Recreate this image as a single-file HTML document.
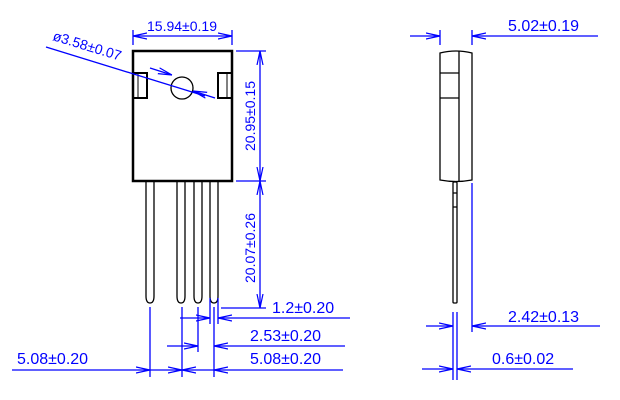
<!DOCTYPE html>
<html><head><style>html,body{margin:0;padding:0;background:#fff}svg{display:block}</style></head>
<body>
<svg width="620" height="400" viewBox="0 0 620 400" xmlns="http://www.w3.org/2000/svg" font-family="Liberation Sans, sans-serif">
<defs>
<marker id="a" markerWidth="14" markerHeight="8" refX="14" refY="4" orient="auto" markerUnits="userSpaceOnUse"><path d="M0,1 L14,4 L0,7" fill="none" stroke="#00f" stroke-width="1.2"/></marker>
</defs>
<g fill="none" stroke="#000">
<rect x="133" y="51" width="99" height="130" stroke-width="2.5"/>
<path d="M133,73 H147 V98 H133 M232,73 H218 V98 H232" stroke-width="2"/>
<path d="M138,73 V98 M227,73 V98" stroke-width="1"/>
<circle cx="182" cy="88" r="11" stroke-width="1.3"/>
<g stroke-width="1.3">
<path d="M146,181 V296 Q146,303 150,303 Q154,303 154,296 V181"/>
<path d="M177,181 V296 Q177,303 181,303 Q185,303 185,296 V181"/>
<path d="M194,181 V296 Q194,303 198,303 Q202,303 202,296 V181"/>
<path d="M210,181 V296 Q210,303 214,303 Q218,303 218,296 V181"/>
</g>
<g stroke-width="1.3">
<path d="M440,53 Q456,49 472,53 V180 Q456,183 440,180 Z"/>
<path d="M459,51 V181 M440,73 H459 M440,98 H459"/>
<rect x="453" y="182" width="4" height="121" rx="1"/>
<path d="M453,193 H457 M453,207 H457"/>
</g>
</g>
<g stroke="#00f" stroke-width="1.3" fill="none">
<path d="M133,30 V45 M232,30 V45"/>
<path d="M182,36 H133" marker-end="url(#a)"/><path d="M182,36 H232" marker-end="url(#a)"/>
<path d="M46,47 L205,96"/>
<path d="M150,68 L172,75" marker-end="url(#a)"/><path d="M215,98 L193,91" marker-end="url(#a)"/>
<path d="M236,51 H266 M236,181 H266"/>
<path d="M260,110 V51" marker-end="url(#a)"/><path d="M260,110 V181" marker-end="url(#a)"/>
<path d="M260,240 V181" marker-end="url(#a)"/><path d="M260,240 V308" marker-end="url(#a)"/>
<path d="M221,308 H266"/>
<path d="M150,307 V377 M182,307 V377 M198,307 V352 M210,298 V324 M218,298 V324 M214,307 V377"/>
<path d="M180,318 H210" marker-end="url(#a)"/><path d="M350,318 H218" marker-end="url(#a)"/>
<path d="M167,346 H198" marker-end="url(#a)"/><path d="M345,346 H214" marker-end="url(#a)"/>
<path d="M12,370 H150" marker-end="url(#a)"/><path d="M150,370 H182" marker-end="url(#a)"/>
<path d="M214,370 H182" marker-end="url(#a)"/><path d="M343,370 H214" marker-end="url(#a)"/>
<path d="M440,30 V45 M472,30 V45"/>
<path d="M410,36 H440" marker-end="url(#a)"/><path d="M598,36 H472" marker-end="url(#a)"/>
<path d="M472,183 V332"/>
<path d="M426,326 H453" marker-end="url(#a)"/><path d="M600,326 H472" marker-end="url(#a)"/>
<path d="M453,312 V380 M457,312 V380"/>
<path d="M422,369 H453" marker-end="url(#a)"/><path d="M573,369 H457" marker-end="url(#a)"/>
</g>
<g fill="#00f" font-size="16">
<text x="182" y="31" text-anchor="middle" font-size="14">15.94±0.19</text>
<text x="0" y="0" font-size="14" transform="translate(52,40) rotate(17)">ø3.58±0.07</text>
<text x="0" y="0" font-size="14" text-anchor="middle" transform="translate(255,116) rotate(-90)">20.95±0.15</text>
<text x="0" y="0" font-size="14" text-anchor="middle" transform="translate(255,248) rotate(-90)">20.07±0.26</text>
<text x="272" y="313">1.2±0.20</text>
<text x="250" y="341">2.53±0.20</text>
<text x="250" y="364">5.08±0.20</text>
<text x="17" y="364">5.08±0.20</text>
<text x="508" y="31">5.02±0.19</text>
<text x="508" y="322">2.42±0.13</text>
<text x="492" y="364">0.6±0.02</text>
</g>
</svg>
</body></html>
